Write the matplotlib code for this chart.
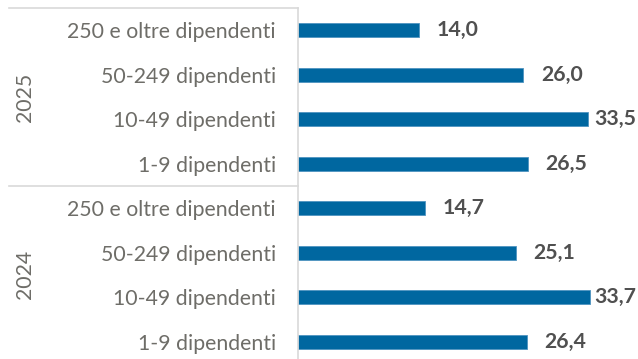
import matplotlib.pyplot as plt
from matplotlib.lines import Line2D

years = ["2025", "2024"]
classi = ["250 e oltre dipendenti", "50-249 dipendenti", "10-49 dipendenti", "1-9 dipendenti"]
val_2025 = [14.0, 26.0, 33.5, 26.5]
val_2024 = [14.7, 25.1, 33.7, 26.4]

blu = "#0067a0"
grigio_lab = "#6e6d68"
grigio_val = "#505050"
linea = "#d9d9d9"

plt.rcParams['font.family'] = ['Lato', 'DejaVu Sans']

labels = classi + classi
values = val_2025 + val_2024
pos = list(range(len(values)))

W, H = 638, 359
fig = plt.figure(figsize=(W / 100, H / 100), dpi=100)
x0 = 298 / W
ax = fig.add_axes([x0, 0, 1 - x0, 1 - 8 / H])

ax.barh(pos, values, height=0.31, color=blu, edgecolor="#4f93c0", linewidth=0.6)
ax.set_ylim(7.39, -0.5)
ax.set_xlim(0, (W - 298) / 8.67)

ax.set_yticks(pos)
ax.set_yticklabels(labels, fontsize=15.3, color=grigio_lab)
ax.tick_params(axis='y', length=0, pad=16)
ax.set_xticks([])
for s in ["top", "right", "bottom"]:
    ax.spines[s].set_visible(False)
ax.spines["left"].set_color(linea)
ax.spines["left"].set_linewidth(1.2)

# etichette dei valori
texts = []
for p, v in zip(pos, values):
    t = ax.annotate(f"{v:.1f}".replace(".", ","), (v, p), xytext=(12.5, 0),
                    textcoords="offset points", va="center", ha="left",
                    fontsize=15.3, fontweight="bold", color=grigio_val)
    texts.append(t)

# linee di gruppo e anni
xl = (9 - 298) / (W - 298)
tr = ax.get_yaxis_transform()
for yy in [-0.5, 3.5]:
    ax.add_artist(Line2D([xl, 0], [yy, yy], transform=tr, color=linea,
                         lw=1.2, clip_on=False))
ax.text(-0.803, 1.5, years[0], transform=tr, rotation=90, va="center",
        ha="center", fontsize=15.3, color=grigio_lab)
ax.text(-0.803, 5.5, years[1], transform=tr, rotation=90, va="center",
        ha="center", fontsize=15.3, color=grigio_lab)

# sposta a sinistra le etichette che escono dal riquadro
fig.canvas.draw()
r = fig.canvas.get_renderer()
for t in texts:
    bb = t.get_window_extent(r)
    if bb.x1 > W - 2:
        t.xyann = (t.xyann[0] - (bb.x1 - (W - 2)) * 72 / 100, 0)

fig.savefig("out.png", dpi=100)
